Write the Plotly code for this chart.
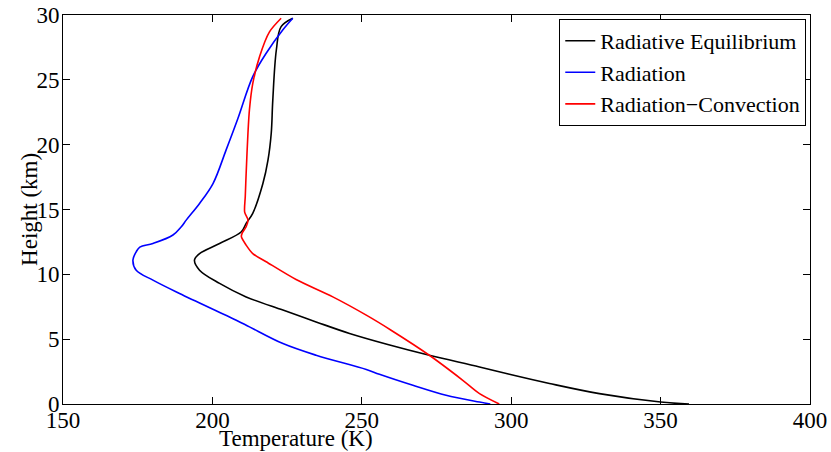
import plotly.graph_objects as go

# Radiative Equilibrium
re_T = [359.5, 350, 329.5, 312.8, 299.4, 289.4, 272.6, 258.7, 245.9, 234.7, 223.6, 211.3, 202.4, 195.7,
        194.0, 195.7, 202.4, 209.7, 211.3, 213.5, 216.9, 218.6, 219.7, 220.2, 221.4, 223, 226.9]
re_h = [0, 0.15, 0.8, 1.58, 2.29, 2.86, 3.76, 4.59, 5.44, 6.33, 7.24, 8.26, 9.3, 10.32,
        11.1, 11.6, 12.38, 13.28, 13.93, 14.7, 17.0, 18.8, 20.9, 23.4, 27.3, 29.1, 29.75]

# Radiation
ra_T = [293, 289.4, 278.2, 267.1, 255.9, 251.5, 234.7, 223.6, 212.4, 208, 189, 180.1, 174.5, 173.4,
        174.5, 175.7, 180.1, 186.8, 189.6, 191.3, 195.7, 200.2, 204.6, 208.5, 213.5, 218, 223.6, 226.9]
ra_h = [0, 0.15, 0.67, 1.44, 2.29, 2.66, 3.76, 4.66, 5.95, 6.46, 8.52, 9.55, 10.32, 11.1,
        11.74, 12.1, 12.38, 13.03, 13.67, 14.2, 15.47, 17.0, 19.6, 22.0, 25.25, 27.05, 28.86, 29.75]

# Radiation-Convection
rc_T = [296, 289.4, 283.8, 272.6, 259.8, 251.5, 240.3, 228, 218, 213.5, 211.3, 209.7,
        210.0, 211.3, 211.9, 210.8, 211.0, 211.3, 211.9, 212.4, 213.5, 215.8, 219.1, 223]
rc_h = [0, 0.8, 1.83, 3.76, 5.69, 6.85, 8.26, 9.6, 10.97, 11.6, 12.25, 12.9,
        13.2, 13.67, 14.2, 14.8, 16.0, 17.8, 20.9, 22.7, 24.7, 26.8, 28.7, 29.75]

x_ticks = [150, 200, 250, 300, 350, 400]
y_ticks = [0, 5, 10, 15, 20, 25, 30]

FONT = "Liberation Serif"

fig = go.Figure()
fig.add_trace(go.Scatter(x=re_T, y=re_h, mode="lines", name="Radiative Equilibrium",
                         line=dict(color="black", width=1.6, shape="spline", smoothing=1.0)))
fig.add_trace(go.Scatter(x=ra_T, y=ra_h, mode="lines", name="Radiation",
                         line=dict(color="#0000ff", width=1.6, shape="spline", smoothing=1.0)))
fig.add_trace(go.Scatter(x=rc_T, y=rc_h, mode="lines", name="Radiation\u2212Convection",
                         line=dict(color="#ff0000", width=1.6, shape="spline", smoothing=0.8)))

fig.update_layout(
    template="none",
    width=831, height=452,
    margin=dict(l=63, r=21, t=15, b=48),
    plot_bgcolor="white", paper_bgcolor="white",
    font=dict(family=FONT, size=23, color="black"),
    legend=dict(x=0.995, y=0.99, xanchor="right", yanchor="top", bgcolor="white",
                bordercolor="black", borderwidth=1, font=dict(family=FONT, size=22, color="black"),
                itemwidth=30, tracegroupgap=0),
    showlegend=True,
    annotations=[
        dict(text="Temperature (K)", xref="paper", yref="paper", x=0.3115, y=-0.088,
             xanchor="center", yanchor="middle", showarrow=False, font=dict(family=FONT, size=23)),
        dict(text="Height (km)", xref="paper", yref="paper", x=-0.045, y=0.5,
             xanchor="center", yanchor="middle", textangle=-90, showarrow=False,
             font=dict(family=FONT, size=23)),
    ],
)

for upd, rng, tv, so in ((fig.update_xaxes, [150, 400], x_ticks, -5),
                         (fig.update_yaxes, [0, 30], y_ticks, -2)):
    upd(range=rng, tickvals=tv, ticktext=[str(v) for v in tv],
        showgrid=False, zeroline=False, showline=True, linecolor="black", linewidth=1,
        mirror="ticks", ticks="inside", ticklen=7, tickcolor="black", tickwidth=1,
        ticklabelstandoff=so,
        automargin=False, tickfont_family=FONT, tickfont_size=23, tickfont_color="black")

fig.write_html("out.html")
